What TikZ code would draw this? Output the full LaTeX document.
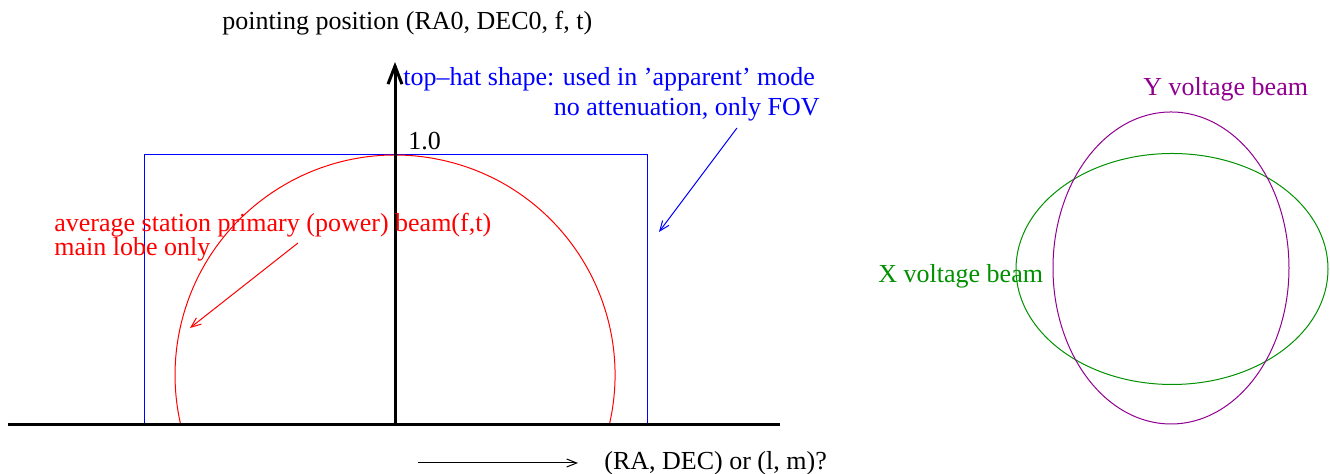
\documentclass[tikz,border=0pt]{standalone}
\usepackage{fontspec}
\setmainfont{Liberation Serif}
\usetikzlibrary{arrows.meta}
\definecolor{BeamRed}{RGB}{255,0,0}
\definecolor{HatBlue}{RGB}{0,0,255}
\definecolor{XGreen}{RGB}{0,144,0}
\definecolor{YPurple}{RGB}{144,0,144}
\tikzset{
  axisline/.style={draw=black,line width=1.5pt},
  axisarrow/.style={-{Straight Barb[length=9pt,width=7pt]},draw=black,line width=1.5pt},
  thinarrow/.style={-{Straight Barb[length=5pt,width=4pt]},line width=0.5pt},
  curve/.style={line width=0.5pt},
  lbl/.style={inner sep=0pt,font=\fontsize{13}{15.6}\selectfont}
}

\begin{document}
\begin{tikzpicture}[x=0.5pt,y=0.5pt]
\useasboundingbox (0,0) rectangle (1330,474);
\coordinate (O) at (395,49);
\coordinate (xL) at (8,49);
\coordinate (xR) at (780,49);
\coordinate (yT) at (395,412);

% top-hat and primary beam
\draw[curve,HatBlue] (144,49) -- (144,319) -- (647,319) -- (647,49);
\draw[curve,BeamRed] (609.3,49.1) arc (-13.1:193.1:220);

% axes
\draw[axisline] (xL) -- (xR);
\draw[axisarrow] (O) -- (yT);

% labels
\node[lbl,anchor=base west] (ptg) at (222,444) {pointing position (RA0, DEC0, f, t)};
\node[lbl,anchor=base west,text=HatBlue] (hat) at (403,388) {top--hat shape: used in 'apparent' mode};
\node[lbl,anchor=base east,text=HatBlue] (fov) at (820,358) {no attenuation, only FOV};
\node[lbl,anchor=base west] (one) at (408,324) {1.0};
\node[lbl,anchor=base west,text=BeamRed] (avg) at (54,242) {average station primary (power) beam(f,t)};
\node[lbl,anchor=base west,text=BeamRed] (lobe) at (54,218) {main lobe only};
\node[lbl,anchor=base west] (ladm) at (604,4) {(RA, DEC) or (l, m)?};

% pointer arrows
\coordinate (rS) at (298,231);
\coordinate (rE) at (190,146);
\draw[thinarrow,BeamRed] (rS) -- (rE);
\coordinate (bS) at (737,346);
\coordinate (bE) at (659,242);
\draw[thinarrow,HatBlue] (bS) -- (bE);
\coordinate (dS) at (418,11);
\coordinate (dE) at (578,11);
\draw[thinarrow,black] (dS) -- (dE);

% voltage beams
\coordinate (xc) at (1172,205);
\coordinate (yc) at (1171,206);
\draw[curve,XGreen] (xc) ellipse [x radius=156,y radius=115.5];
\draw[curve,YPurple] (yc) ellipse [x radius=118,y radius=156];
\node[lbl,anchor=base west,text=XGreen] (xlbl) at (878,191) {X voltage beam};
\node[lbl,anchor=base west,text=YPurple] (ylbl) at (1143,378) {Y voltage beam};
\end{tikzpicture}
\end{document}
